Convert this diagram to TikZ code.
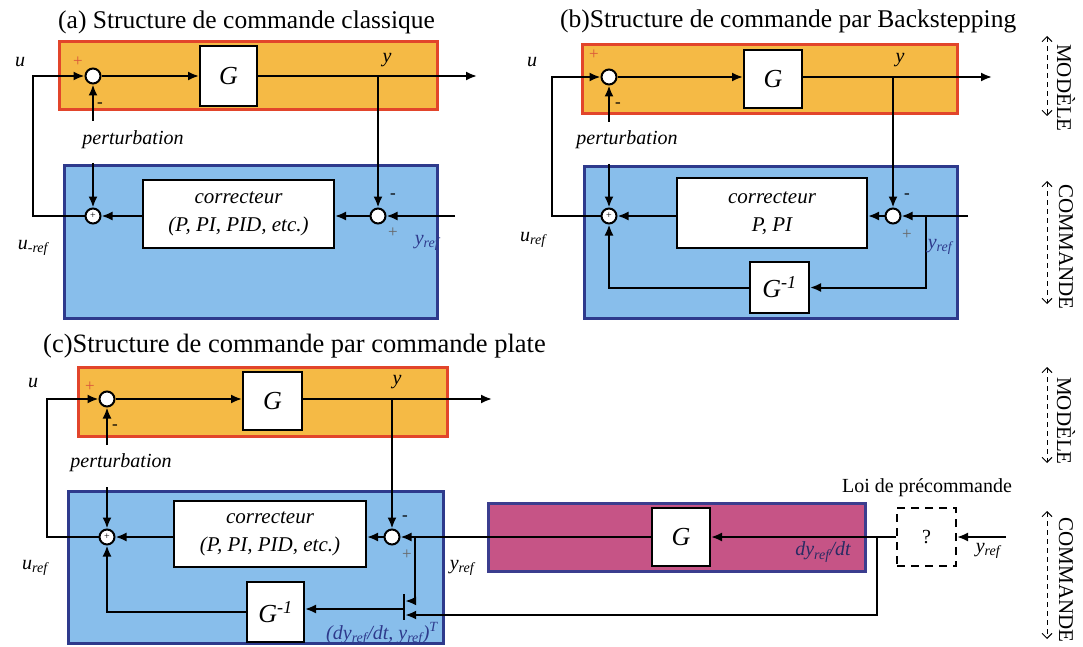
\documentclass[tikz,border=0pt]{standalone}
\usepackage{fontspec}
\setmainfont{Liberation Serif}
\usetikzlibrary{arrows.meta}
\definecolor{orfill}{HTML}{F5BA45}
\definecolor{orline}{HTML}{E2452B}
\definecolor{blfill}{HTML}{88BEEB}
\definecolor{bldraw}{HTML}{2E3A8C}
\definecolor{pkfill}{HTML}{C65486}
\definecolor{pkdraw}{HTML}{3B3D8E}
\definecolor{plusred}{HTML}{D9573A}
\tikzset{
 mbox/.style={draw=orline, fill=orfill, line width=3pt, inner sep=0},
 cbox/.style={draw=bldraw, fill=blfill, line width=3pt, inner sep=0},
 pbox/.style={draw=pkdraw, fill=pkfill, line width=3pt, inner sep=0},
 blk/.style={draw=black, fill=white, line width=2pt, inner sep=0, font=\fontsize{26}{26}\selectfont\itshape},
 kbox/.style={draw=black, fill=white, line width=2pt, align=center, inner sep=0, font=\fontsize{21}{28}\selectfont\itshape},
 sumc/.style={circle, draw=black, fill=white, line width=2pt, minimum size=15pt, inner sep=0},
 psum/.style={sumc, font=\fontsize{10}{10}\selectfont},
 wire/.style={line width=2pt, -{Latex[length=11pt,width=9pt]}},
 plain/.style={line width=2pt},
 lab/.style={font=\fontsize{20}{20}\selectfont\itshape, inner sep=0},
 ttl/.style={font=\fontsize{25.5}{25.5}\selectfont, anchor=base west, inner sep=0},
 sgn/.style={font=\fontsize{17}{17}\selectfont, inner sep=0},
 side/.style={font=\fontsize{21}{21}\selectfont, rotate=-90, inner sep=0},
 sarr/.style={dash pattern=on 5pt off 4pt, line width=1pt, {Straight Barb[length=5pt,width=10pt]}-{Straight Barb[length=5pt,width=10pt]}},
}
\begin{document}
\begin{tikzpicture}[x=1pt,y=-1pt]
\useasboundingbox (0,0) rectangle (1083,647);

% ================= (a) =================
\node[ttl] (ta) at (58,29) {(a) Structure de commande classique};
\node[mbox, minimum width=378pt, minimum height=68pt] (ma) at (248,76) {};
\node[cbox, minimum width=373pt, minimum height=152pt] (ca) at (250.5,242) {};
\node[sumc] (sa) at (93,76) {};
\node[blk, minimum width=57pt, minimum height=60pt] (Ga) at (228.5,76) {G};
\coordinate (outa) at (477,76);
\coordinate (tapa) at (378,76);
\node[psum] (pa) at (93,216) {+};
\node[kbox, minimum width=191pt, minimum height=68pt] (Ka) at (238.5,214) {correcteur\\(P, PI, PID, etc.)};
\node[sumc] (mina) at (378,216) {};
\coordinate (yina) at (455,216);
\coordinate (la) at (33,216);
\node[lab] (perta) at (133,140) {perturbation};
\coordinate (pta1) at (93,121);
\coordinate (pta2) at (93,163);
\draw[wire] (sa.east) -- (Ga.west);
\draw[wire] (Ga.east) -- (outa);
\draw[wire] (tapa) -- (mina.north);
\draw[wire] (yina) -- (mina.east);
\draw[wire] (mina.west) -- (Ka.east |- mina.west);
\draw[wire] (Ka.west |- pa.east) -- (pa.east);
\draw[wire] (pa.west) -- (la) |- (sa.west);
\draw[wire] (pta1) -- (sa.south);
\draw[wire] (pta2) -- (pa.north);
\node[lab] (ua) at (20,62) {u};
\node[lab] (ya) at (387,60) {y};
\node[sgn, text=plusred] (spa) at (78,62) {+};
\node[sgn] (sma) at (100,105) {-};
\node[sgn] (sm2a) at (393,196) {-};
\node[sgn, text=black!60] (sp2a) at (393,233) {+};
\node[lab, text=bldraw] (yra) at (427,243) {y\textsubscript{ref}};
\node[lab] (ura) at (33,248) {u\textsubscript{-ref}};

% ================= (b) =================
\node[ttl] (tb) at (560,28) {(b)Structure de commande par Backstepping};
\node[mbox, minimum width=375pt, minimum height=69pt] (mb) at (769.5,79.5) {};
\node[cbox, minimum width=373pt, minimum height=151pt] (cb) at (770.5,242.5) {};
\node[sumc] (sb) at (609,77) {};
\node[blk, minimum width=58pt, minimum height=58pt] (Gb) at (773,79) {G};
\coordinate (outb) at (992,77);
\coordinate (tapb) at (893,77);
\node[psum] (pb) at (609,216) {+};
\node[kbox, minimum width=190pt, minimum height=69pt] (Kb) at (772,213) {correcteur\\P, PI};
\node[sumc] (minb) at (893,216) {};
\coordinate (yinb) at (968,216);
\coordinate (brb) at (926,216);
\node[blk, minimum width=59pt, minimum height=51pt] (Gib) at (779.5,287.5) {G\textsuperscript{-1}};
\coordinate (lb) at (552,216);
\node[lab] (pertb) at (627,140) {perturbation};
\coordinate (ptb1) at (609,122);
\coordinate (ptb2) at (609,164);
\draw[wire] (sb.east) -- (Gb.west |- sb.east);
\draw[wire] (Gb.east |- sb.east) -- (outb);
\draw[wire] (tapb) -- (minb.north);
\draw[wire] (yinb) -- (minb.east);
\draw[wire] (minb.west) -- (Kb.east |- minb.west);
\draw[wire] (Kb.west |- pb.east) -- (pb.east);
\draw[wire] (brb) |- (Gib.east);
\draw[wire] (Gib.west) -| (pb.south);
\draw[wire] (pb.west) -- (lb) |- (sb.west);
\draw[wire] (ptb1) -- (sb.south);
\draw[wire] (ptb2) -- (pb.north);
\node[lab] (ub) at (532,62) {u};
\node[lab] (yb) at (900,60) {y};
\node[sgn, text=plusred] (spb) at (594,55) {+};
\node[sgn] (smb) at (618,105) {-};
\node[sgn] (sm2b) at (907,196) {-};
\node[sgn, text=black!60] (sp2b) at (907,235) {+};
\node[lab, text=bldraw] (yrb) at (940,247) {y\textsubscript{ref}};
\node[lab] (urb) at (533,240) {u\textsubscript{ref}};

% ================= (c) =================
\node[ttl, font=\fontsize{26.5}{26.5}\selectfont] (tc) at (43,352) {(c)Structure de commande par commande plate};
\node[mbox, minimum width=369pt, minimum height=69pt] (mc) at (262.5,401.5) {};
\node[cbox, minimum width=375pt, minimum height=152pt] (cc) at (255.5,567) {};
\node[pbox, minimum width=377pt, minimum height=68pt] (pkc) at (676.5,537) {};
\node[sumc] (sc) at (107,399) {};
\node[blk, minimum width=59pt, minimum height=58pt] (Gc) at (272.5,401) {G};
\coordinate (outc) at (492,399);
\coordinate (tapc) at (392,399);
\node[psum] (pc) at (107,537) {+};
\node[kbox, minimum width=192pt, minimum height=66pt] (Kc) at (270,534) {correcteur\\(P, PI, PID, etc.)};
\node[sumc] (minc) at (392,537) {};
\coordinate (brc) at (415,537);
\node[fill=black, inner sep=0, minimum width=2pt, minimum height=26pt] (bar) at (404,607) {};
\node[blk, minimum width=57pt, minimum height=60pt] (Gic) at (275.5,612) {G\textsuperscript{-1}};
\node[blk, minimum width=58pt, minimum height=58pt] (Gm) at (681,537) {G};
\node[draw=black, dash pattern=on 8pt off 6pt, line width=2pt, fill=white, minimum width=59pt, minimum height=58pt, inner sep=0, font=\fontsize{20}{20}\selectfont] (q) at (926.5,537) {?};
\coordinate (jc) at (877,537);
\coordinate (yinc) at (1006,537);
\coordinate (lc) at (47,537);
\node[lab] (pertc) at (121,463) {perturbation};
\coordinate (ptc1) at (107,445);
\coordinate (ptc2) at (107,487);
\draw[wire] (sc.east) -- (Gc.west |- sc.east);
\draw[wire] (Gc.east |- sc.east) -- (outc);
\draw[wire] (tapc) -- (minc.north);
\draw[wire] (Gm.west) -- (minc.east);
\draw[wire] (minc.west) -- (Kc.east |- minc.west);
\draw[wire] (Kc.west |- pc.east) -- (pc.east);
\draw[wire] (brc) |- (bar.east |- 0,601);
\draw[wire] (jc) |- (bar.east |- 0,615);
\draw[wire] (bar.west |- 0,609) -- (Gic.east |- 0,609);
\draw[wire] (Gic.west) -| (pc.south);
\draw[wire] (pc.west) -- (lc) |- (sc.west);
\draw[wire] (ptc1) -- (sc.south);
\draw[wire] (ptc2) -- (pc.north);
\draw[wire] (q.west) -- (Gm.east);
\draw[wire] (yinc) -- (q.east);
\node[lab] (uc) at (33,383) {u};
\node[lab] (yc) at (397,382) {y};
\node[sgn, text=plusred] (spc) at (90,387) {+};
\node[sgn] (smc) at (115,427) {-};
\node[sgn] (sm2c) at (405,518) {-};
\node[sgn, text=black!60] (sp2c) at (407,555) {+};
\node[lab] (yrc) at (462,568) {y\textsubscript{ref}};
\node[lab] (urc) at (35,568) {u\textsubscript{ref}};
\node[lab] (yrq) at (988,551) {y\textsubscript{ref}};
\node[font=\fontsize{20}{20}\selectfont, inner sep=0] (loi) at (927,488) {Loi de précommande};
\node[lab, text=pkdraw!70!black] (dyc) at (823,552) {dy\textsubscript{ref}/dt};
\node[lab, text=bldraw] (dyt) at (382,634) {(dy\textsubscript{ref}/dt, y\textsubscript{ref})\textsuperscript{T}};

% ================= side labels =================
\coordinate (m1t) at (1047,36);
\coordinate (m1b) at (1047,116);
\draw[sarr] (m1t) -- (m1b);
\node[side] (mod1) at (1066,88) {MODÈLE};
\coordinate (c1t) at (1047,181);
\coordinate (c1b) at (1047,304);
\draw[sarr] (c1t) -- (c1b);
\node[side] (com1) at (1066,247) {COMMANDE};
\coordinate (m2t) at (1047,367);
\coordinate (m2b) at (1047,463);
\draw[sarr] (m2t) -- (m2b);
\node[side] (mod2) at (1066,421) {MODÈLE};
\coordinate (c2t) at (1047,511);
\coordinate (c2b) at (1047,639);
\draw[sarr] (c2t) -- (c2b);
\node[side] (com2) at (1066,580) {COMMANDE};
\end{tikzpicture}
\end{document}
